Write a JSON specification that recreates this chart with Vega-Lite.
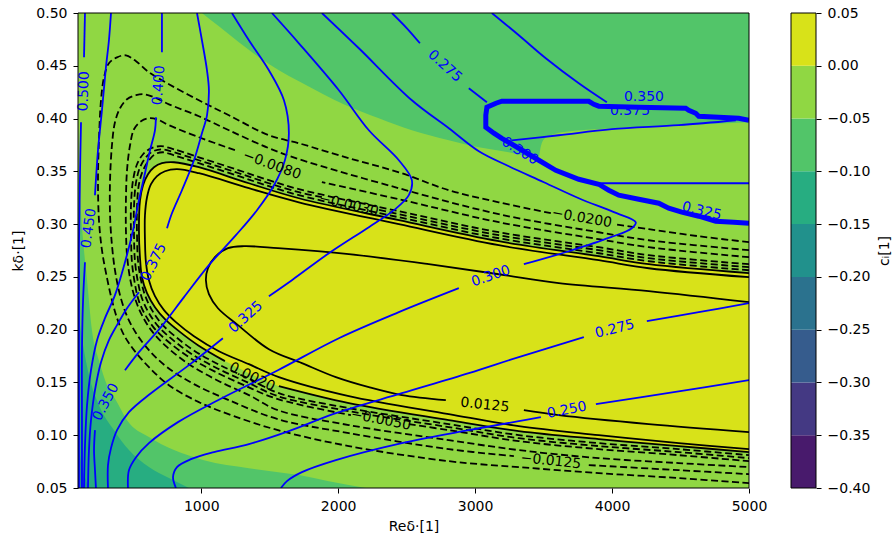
{
"$schema": "https://vega.github.io/schema/vega-lite/v6.json",
"background": "white",
"padding": {"left": 11, "top": 6, "right": 5, "bottom": 5},
"config": {
  "font": "DejaVu Sans",
  "view": {"stroke": null},
  "axis": {"labelFont": "DejaVu Sans", "titleFont": "DejaVu Sans", "labelFontSize": 14, "titleFontSize": 14, "titleFontWeight": "normal", "labelColor": "#000", "titleColor": "#000", "tickColor": "#000", "tickSize": 5, "tickWidth": 1, "labelPadding": 6, "domain": false, "grid": false, "labelFlush": false, "labelOverlap": false},
  "text": {"font": "DejaVu Sans", "fontSize": 14}
},
"datasets": {
  "plot": [{"re": 100, "re2": 5000, "k": 0.05, "k2": 0.5, "c": -0.025}],
  "bands": [
    {"lo": -0.40, "hi": -0.35, "c": -0.375},
    {"lo": -0.35, "hi": -0.30, "c": -0.325},
    {"lo": -0.30, "hi": -0.25, "c": -0.275},
    {"lo": -0.25, "hi": -0.20, "c": -0.225},
    {"lo": -0.20, "hi": -0.15, "c": -0.175},
    {"lo": -0.15, "hi": -0.10, "c": -0.125},
    {"lo": -0.10, "hi": -0.05, "c": -0.075},
    {"lo": -0.05, "hi": 0.00, "c": -0.025},
    {"lo": 0.00, "hi": 0.05, "c": 0.025}
  ],
  "fill": [
    {"region": "tr", "c": -0.075, "re": 1005, "k": 0.5, "k2": 0.5},
    {"region": "tr", "c": -0.075, "re": 1129, "k": 0.4874, "k2": 0.5},
    {"region": "tr", "c": -0.075, "re": 1275, "k": 0.4723, "k2": 0.5},
    {"region": "tr", "c": -0.075, "re": 1421, "k": 0.4580, "k2": 0.5},
    {"region": "tr", "c": -0.075, "re": 1567, "k": 0.4457, "k2": 0.5},
    {"region": "tr", "c": -0.075, "re": 1713, "k": 0.4353, "k2": 0.5},
    {"region": "tr", "c": -0.075, "re": 2056, "k": 0.4126, "k2": 0.5},
    {"region": "tr", "c": -0.075, "re": 2297, "k": 0.4003, "k2": 0.5},
    {"region": "tr", "c": -0.075, "re": 2538, "k": 0.3889, "k2": 0.5},
    {"region": "tr", "c": -0.075, "re": 2808, "k": 0.3794, "k2": 0.5},
    {"region": "tr", "c": -0.075, "re": 3027, "k": 0.3728, "k2": 0.5},
    {"region": "tr", "c": -0.075, "re": 3246, "k": 0.3681, "k2": 0.5},
    {"region": "tr", "c": -0.075, "re": 3436, "k": 0.3633, "k2": 0.5},
    {"region": "tr", "c": -0.075, "re": 3465, "k": 0.3643, "k2": 0.5},
    {"region": "tr", "c": -0.075, "re": 3480, "k": 0.3738, "k2": 0.5},
    {"region": "tr", "c": -0.075, "re": 3502, "k": 0.3804, "k2": 0.5},
    {"region": "tr", "c": -0.075, "re": 3538, "k": 0.3832, "k2": 0.5},
    {"region": "tr", "c": -0.075, "re": 3633, "k": 0.3870, "k2": 0.5},
    {"region": "tr", "c": -0.075, "re": 3998, "k": 0.3908, "k2": 0.5},
    {"region": "tr", "c": -0.075, "re": 4487, "k": 0.3937, "k2": 0.5},
    {"region": "tr", "c": -0.075, "re": 5000, "k": 0.3965, "k2": 0.5},
    {"region": "bl", "c": -0.075, "re": 100, "k": 0.05, "k2": 0.3539},
    {"region": "bl", "c": -0.075, "re": 107, "k": 0.05, "k2": 0.3368},
    {"region": "bl", "c": -0.075, "re": 115, "k": 0.05, "k2": 0.3226},
    {"region": "bl", "c": -0.075, "re": 137, "k": 0.05, "k2": 0.2847},
    {"region": "bl", "c": -0.075, "re": 166, "k": 0.05, "k2": 0.2469},
    {"region": "bl", "c": -0.075, "re": 202, "k": 0.05, "k2": 0.1995},
    {"region": "bl", "c": -0.075, "re": 253, "k": 0.05, "k2": 0.1711},
    {"region": "bl", "c": -0.075, "re": 312, "k": 0.05, "k2": 0.1474},
    {"region": "bl", "c": -0.075, "re": 377, "k": 0.05, "k2": 0.1332},
    {"region": "bl", "c": -0.075, "re": 458, "k": 0.05, "k2": 0.1143},
    {"region": "bl", "c": -0.075, "re": 618, "k": 0.05, "k2": 0.0982},
    {"region": "bl", "c": -0.075, "re": 801, "k": 0.05, "k2": 0.0859},
    {"region": "bl", "c": -0.075, "re": 1020, "k": 0.05, "k2": 0.0764},
    {"region": "bl", "c": -0.075, "re": 1348, "k": 0.05, "k2": 0.0688},
    {"region": "bl", "c": -0.075, "re": 1713, "k": 0.05, "k2": 0.0622},
    {"region": "bl", "c": -0.075, "re": 1932, "k": 0.05, "k2": 0.0565},
    {"region": "bl", "c": -0.075, "re": 2202, "k": 0.05, "k2": 0.05},
    {"region": "teal", "c": -0.125, "re": 100, "k": 0.05, "k2": 0.2185},
    {"region": "teal", "c": -0.125, "re": 137, "k": 0.05, "k2": 0.1853},
    {"region": "teal", "c": -0.125, "re": 180, "k": 0.05, "k2": 0.1569},
    {"region": "teal", "c": -0.125, "re": 253, "k": 0.05, "k2": 0.1285},
    {"region": "teal", "c": -0.125, "re": 363, "k": 0.05, "k2": 0.1048},
    {"region": "teal", "c": -0.125, "re": 472, "k": 0.05, "k2": 0.0859},
    {"region": "teal", "c": -0.125, "re": 618, "k": 0.05, "k2": 0.0698},
    {"region": "teal", "c": -0.125, "re": 764, "k": 0.05, "k2": 0.0594},
    {"region": "teal", "c": -0.125, "re": 910, "k": 0.05, "k2": 0.05},
    {"region": "c175", "c": -0.175, "re": 100, "k": 0.05, "k2": 0.0953},
    {"region": "c175", "c": -0.175, "re": 122, "k": 0.05, "k2": 0.0745},
    {"region": "c175", "c": -0.175, "re": 151, "k": 0.05, "k2": 0.0603},
    {"region": "c175", "c": -0.175, "re": 180, "k": 0.05, "k2": 0.05},
    {"region": "c225", "c": -0.225, "re": 100, "k": 0.05, "k2": 0.0669},
    {"region": "c225", "c": -0.225, "re": 115, "k": 0.05, "k2": 0.05},
    {"region": "yel", "c": 0.025, "re": 545, "k": 0.2866, "k2": 0.3018},
    {"region": "yel", "c": 0.025, "re": 553, "k": 0.2677, "k2": 0.3226},
    {"region": "yel", "c": 0.025, "re": 567, "k": 0.2497, "k2": 0.3321},
    {"region": "yel", "c": 0.025, "re": 589, "k": 0.2403, "k2": 0.3416},
    {"region": "yel", "c": 0.025, "re": 611, "k": 0.2327, "k2": 0.3472},
    {"region": "yel", "c": 0.025, "re": 655, "k": 0.2232, "k2": 0.3539},
    {"region": "yel", "c": 0.025, "re": 713, "k": 0.2128, "k2": 0.3577},
    {"region": "yel", "c": 0.025, "re": 801, "k": 0.2024, "k2": 0.3586},
    {"region": "yel", "c": 0.025, "re": 983, "k": 0.1844, "k2": 0.3539},
    {"region": "yel", "c": 0.025, "re": 1173, "k": 0.1702, "k2": 0.3463},
    {"region": "yel", "c": 0.025, "re": 1348, "k": 0.1588, "k2": 0.3387},
    {"region": "yel", "c": 0.025, "re": 1567, "k": 0.1465, "k2": 0.3302},
    {"region": "yel", "c": 0.025, "re": 1713, "k": 0.1418, "k2": 0.3245},
    {"region": "yel", "c": 0.025, "re": 2078, "k": 0.1304, "k2": 0.3141},
    {"region": "yel", "c": 0.025, "re": 2443, "k": 0.1218, "k2": 0.3037},
    {"region": "yel", "c": 0.025, "re": 2808, "k": 0.1143, "k2": 0.2942},
    {"region": "yel", "c": 0.025, "re": 3173, "k": 0.1077, "k2": 0.2838},
    {"region": "yel", "c": 0.025, "re": 3319, "k": 0.1039, "k2": 0.2810},
    {"region": "yel", "c": 0.025, "re": 3903, "k": 0.0963, "k2": 0.2696},
    {"region": "yel", "c": 0.025, "re": 4487, "k": 0.0897, "k2": 0.2611},
    {"region": "yel", "c": 0.025, "re": 5000, "k": 0.0840, "k2": 0.2535}
  ],
  "ci": [
    {"s": "L1a", "lv": -0.02, "re": 5000, "k": 0.2829}, {"s": "L1a", "lv": -0.02, "re": 4633, "k": 0.2885}, {"s": "L1a", "lv": -0.02, "re": 4268, "k": 0.2952}, {"s": "L1a", "lv": -0.02, "re": 4013, "k": 0.3000},
    {"s": "L1b", "lv": -0.02, "re": 3553, "k": 0.3103}, {"s": "L1b", "lv": -0.02, "re": 3173, "k": 0.3207}, {"s": "L1b", "lv": -0.02, "re": 2808, "k": 0.3321}, {"s": "L1b", "lv": -0.02, "re": 2443, "k": 0.3491}, {"s": "L1b", "lv": -0.02, "re": 2078, "k": 0.3624}, {"s": "L1b", "lv": -0.02, "re": 1713, "k": 0.3766}, {"s": "L1b", "lv": -0.02, "re": 1494, "k": 0.3842}, {"s": "L1b", "lv": -0.02, "re": 1202, "k": 0.4031}, {"s": "L1b", "lv": -0.02, "re": 983, "k": 0.4173}, {"s": "L1b", "lv": -0.02, "re": 764, "k": 0.4325}, {"s": "L1b", "lv": -0.02, "re": 618, "k": 0.4438}, {"s": "L1b", "lv": -0.02, "re": 524, "k": 0.4543}, {"s": "L1b", "lv": -0.02, "re": 450, "k": 0.4599}, {"s": "L1b", "lv": -0.02, "re": 385, "k": 0.4580}, {"s": "L1b", "lv": -0.02, "re": 326, "k": 0.4524}, {"s": "L1b", "lv": -0.02, "re": 290, "k": 0.4391}, {"s": "L1b", "lv": -0.02, "re": 268, "k": 0.4173}, {"s": "L1b", "lv": -0.02, "re": 253, "k": 0.3794}, {"s": "L1b", "lv": -0.02, "re": 246, "k": 0.3416}, {"s": "L1b", "lv": -0.02, "re": 253, "k": 0.3037}, {"s": "L1b", "lv": -0.02, "re": 275, "k": 0.2753}, {"s": "L1b", "lv": -0.02, "re": 312, "k": 0.2488}, {"s": "L1b", "lv": -0.02, "re": 348, "k": 0.2279}, {"s": "L1b", "lv": -0.02, "re": 385, "k": 0.2109}, {"s": "L1b", "lv": -0.02, "re": 436, "k": 0.1948}, {"s": "L1b", "lv": -0.02, "re": 509, "k": 0.1806}, {"s": "L1b", "lv": -0.02, "re": 618, "k": 0.1645}, {"s": "L1b", "lv": -0.02, "re": 764, "k": 0.1474}, {"s": "L1b", "lv": -0.02, "re": 983, "k": 0.1313}, {"s": "L1b", "lv": -0.02, "re": 1239, "k": 0.1181}, {"s": "L1b", "lv": -0.02, "re": 1560, "k": 0.1048}, {"s": "L1b", "lv": -0.02, "re": 2078, "k": 0.0897}, {"s": "L1b", "lv": -0.02, "re": 2808, "k": 0.0754}, {"s": "L1b", "lv": -0.02, "re": 3319, "k": 0.0698}, {"s": "L1b", "lv": -0.02, "re": 3903, "k": 0.0641}, {"s": "L1b", "lv": -0.02, "re": 4487, "k": 0.0594}, {"s": "L1b", "lv": -0.02, "re": 5000, "k": 0.0546},
    {"s": "L2a", "lv": -0.0125, "re": 5000, "k": 0.2753}, {"s": "L2a", "lv": -0.0125, "re": 4268, "k": 0.2847}, {"s": "L2a", "lv": -0.0125, "re": 3903, "k": 0.2923}, {"s": "L2a", "lv": -0.0125, "re": 3173, "k": 0.3094}, {"s": "L2a", "lv": -0.0125, "re": 2443, "k": 0.3340}, {"s": "L2a", "lv": -0.0125, "re": 1713, "k": 0.3615}, {"s": "L2a", "lv": -0.0125, "re": 1494, "k": 0.3719}, {"s": "L2a", "lv": -0.0125, "re": 1202, "k": 0.3889}, {"s": "L2a", "lv": -0.0125, "re": 983, "k": 0.4022}, {"s": "L2a", "lv": -0.0125, "re": 764, "k": 0.4135}, {"s": "L2a", "lv": -0.0125, "re": 655, "k": 0.4202}, {"s": "L2a", "lv": -0.0125, "re": 582, "k": 0.4230}, {"s": "L2a", "lv": -0.0125, "re": 524, "k": 0.4221}, {"s": "L2a", "lv": -0.0125, "re": 458, "k": 0.4183}, {"s": "L2a", "lv": -0.0125, "re": 407, "k": 0.4098}, {"s": "L2a", "lv": -0.0125, "re": 370, "k": 0.3965}, {"s": "L2a", "lv": -0.0125, "re": 348, "k": 0.3747}, {"s": "L2a", "lv": -0.0125, "re": 334, "k": 0.3416}, {"s": "L2a", "lv": -0.0125, "re": 334, "k": 0.3084}, {"s": "L2a", "lv": -0.0125, "re": 348, "k": 0.2800}, {"s": "L2a", "lv": -0.0125, "re": 370, "k": 0.2563}, {"s": "L2a", "lv": -0.0125, "re": 407, "k": 0.2327}, {"s": "L2a", "lv": -0.0125, "re": 458, "k": 0.2128}, {"s": "L2a", "lv": -0.0125, "re": 524, "k": 0.1967}, {"s": "L2a", "lv": -0.0125, "re": 618, "k": 0.1806}, {"s": "L2a", "lv": -0.0125, "re": 750, "k": 0.1645}, {"s": "L2a", "lv": -0.0125, "re": 947, "k": 0.1484}, {"s": "L2a", "lv": -0.0125, "re": 1202, "k": 0.1332}, {"s": "L2a", "lv": -0.0125, "re": 1560, "k": 0.1152}, {"s": "L2a", "lv": -0.0125, "re": 2078, "k": 0.1020}, {"s": "L2a", "lv": -0.0125, "re": 2808, "k": 0.0868}, {"s": "L2a", "lv": -0.0125, "re": 3283, "k": 0.0802},
    {"s": "L2b", "lv": -0.0125, "re": 3830, "k": 0.0717}, {"s": "L2b", "lv": -0.0125, "re": 4487, "k": 0.0669}, {"s": "L2b", "lv": -0.0125, "re": 5000, "k": 0.0631},
    {"s": "L3a", "lv": -0.008, "re": 5000, "k": 0.2687}, {"s": "L3a", "lv": -0.008, "re": 4268, "k": 0.2781}, {"s": "L3a", "lv": -0.008, "re": 3903, "k": 0.2857}, {"s": "L3a", "lv": -0.008, "re": 3173, "k": 0.3018}, {"s": "L3a", "lv": -0.008, "re": 2443, "k": 0.3236}, {"s": "L3a", "lv": -0.008, "re": 1881, "k": 0.3397},
    {"s": "L3b", "lv": -0.008, "re": 1246, "k": 0.3700}, {"s": "L3b", "lv": -0.008, "re": 983, "k": 0.3823}, {"s": "L3b", "lv": -0.008, "re": 764, "k": 0.3937}, {"s": "L3b", "lv": -0.008, "re": 677, "k": 0.3993}, {"s": "L3b", "lv": -0.008, "re": 618, "k": 0.4003}, {"s": "L3b", "lv": -0.008, "re": 560, "k": 0.3974}, {"s": "L3b", "lv": -0.008, "re": 509, "k": 0.3899}, {"s": "L3b", "lv": -0.008, "re": 480, "k": 0.3747}, {"s": "L3b", "lv": -0.008, "re": 458, "k": 0.3510}, {"s": "L3b", "lv": -0.008, "re": 450, "k": 0.3226}, {"s": "L3b", "lv": -0.008, "re": 450, "k": 0.2942}, {"s": "L3b", "lv": -0.008, "re": 458, "k": 0.2706}, {"s": "L3b", "lv": -0.008, "re": 480, "k": 0.2488}, {"s": "L3b", "lv": -0.008, "re": 516, "k": 0.2298}, {"s": "L3b", "lv": -0.008, "re": 567, "k": 0.2137}, {"s": "L3b", "lv": -0.008, "re": 640, "k": 0.1986}, {"s": "L3b", "lv": -0.008, "re": 742, "k": 0.1844}, {"s": "L3b", "lv": -0.008, "re": 910, "k": 0.1673}, {"s": "L3b", "lv": -0.008, "re": 1129, "k": 0.1512}, {"s": "L3b", "lv": -0.008, "re": 1348, "k": 0.1380}, {"s": "L3b", "lv": -0.008, "re": 1560, "k": 0.1237}, {"s": "L3b", "lv": -0.008, "re": 2078, "k": 0.1096}, {"s": "L3b", "lv": -0.008, "re": 2808, "k": 0.0953}, {"s": "L3b", "lv": -0.008, "re": 3319, "k": 0.0859}, {"s": "L3b", "lv": -0.008, "re": 3903, "k": 0.0783}, {"s": "L3b", "lv": -0.008, "re": 4487, "k": 0.0736}, {"s": "L3b", "lv": -0.008, "re": 5000, "k": 0.0698},
    {"s": "C1a", "lv": -0.005, "re": 5000, "k": 0.2620}, {"s": "C1a", "lv": -0.005, "re": 4268, "k": 0.2706}, {"s": "C1a", "lv": -0.005, "re": 3903, "k": 0.2781}, {"s": "C1a", "lv": -0.005, "re": 3173, "k": 0.2923}, {"s": "C1a", "lv": -0.005, "re": 2443, "k": 0.3122}, {"s": "C1a", "lv": -0.005, "re": 1713, "k": 0.3331}, {"s": "C1a", "lv": -0.005, "re": 1494, "k": 0.3416}, {"s": "C1a", "lv": -0.005, "re": 1275, "k": 0.3510}, {"s": "C1a", "lv": -0.005, "re": 983, "k": 0.3633}, {"s": "C1a", "lv": -0.005, "re": 801, "k": 0.3709}, {"s": "C1a", "lv": -0.005, "re": 706, "k": 0.3738}, {"s": "C1a", "lv": -0.005, "re": 633, "k": 0.3719}, {"s": "C1a", "lv": -0.005, "re": 575, "k": 0.3662}, {"s": "C1a", "lv": -0.005, "re": 531, "k": 0.3567}, {"s": "C1a", "lv": -0.005, "re": 502, "k": 0.3416}, {"s": "C1a", "lv": -0.005, "re": 487, "k": 0.3179}, {"s": "C1a", "lv": -0.005, "re": 487, "k": 0.2895}, {"s": "C1a", "lv": -0.005, "re": 494, "k": 0.2639}, {"s": "C1a", "lv": -0.005, "re": 516, "k": 0.2431}, {"s": "C1a", "lv": -0.005, "re": 545, "k": 0.2270}, {"s": "C1a", "lv": -0.005, "re": 596, "k": 0.2128}, {"s": "C1a", "lv": -0.005, "re": 669, "k": 0.1995}, {"s": "C1a", "lv": -0.005, "re": 764, "k": 0.1881}, {"s": "C1a", "lv": -0.005, "re": 910, "k": 0.1740}, {"s": "C1a", "lv": -0.005, "re": 1093, "k": 0.1607}, {"s": "C1a", "lv": -0.005, "re": 1312, "k": 0.1474}, {"s": "C1a", "lv": -0.005, "re": 1560, "k": 0.1342}, {"s": "C1a", "lv": -0.005, "re": 2093, "k": 0.1190},
    {"s": "C1b", "lv": -0.005, "re": 2516, "k": 0.1105}, {"s": "C1b", "lv": -0.005, "re": 2808, "k": 0.1048}, {"s": "C1b", "lv": -0.005, "re": 3319, "k": 0.0944}, {"s": "C1b", "lv": -0.005, "re": 3903, "k": 0.0868}, {"s": "C1b", "lv": -0.005, "re": 4487, "k": 0.0811}, {"s": "C1b", "lv": -0.005, "re": 5000, "k": 0.0754},
    {"s": "C2a", "lv": -0.003, "re": 5000, "k": 0.2592}, {"s": "C2a", "lv": -0.003, "re": 4268, "k": 0.2677}, {"s": "C2a", "lv": -0.003, "re": 3903, "k": 0.2753}, {"s": "C2a", "lv": -0.003, "re": 3173, "k": 0.2895}, {"s": "C2a", "lv": -0.003, "re": 2443, "k": 0.3094}, {"s": "C2a", "lv": -0.003, "re": 2275, "k": 0.3141},
    {"s": "C2b", "lv": -0.003, "re": 1881, "k": 0.3255}, {"s": "C2b", "lv": -0.003, "re": 1713, "k": 0.3302}, {"s": "C2b", "lv": -0.003, "re": 1494, "k": 0.3387}, {"s": "C2b", "lv": -0.003, "re": 1275, "k": 0.3482}, {"s": "C2b", "lv": -0.003, "re": 983, "k": 0.3605}, {"s": "C2b", "lv": -0.003, "re": 801, "k": 0.3681}, {"s": "C2b", "lv": -0.003, "re": 713, "k": 0.3709}, {"s": "C2b", "lv": -0.003, "re": 648, "k": 0.3690}, {"s": "C2b", "lv": -0.003, "re": 596, "k": 0.3633}, {"s": "C2b", "lv": -0.003, "re": 553, "k": 0.3539}, {"s": "C2b", "lv": -0.003, "re": 524, "k": 0.3397}, {"s": "C2b", "lv": -0.003, "re": 509, "k": 0.3169}, {"s": "C2b", "lv": -0.003, "re": 509, "k": 0.2895}, {"s": "C2b", "lv": -0.003, "re": 516, "k": 0.2648}, {"s": "C2b", "lv": -0.003, "re": 538, "k": 0.2450}, {"s": "C2b", "lv": -0.003, "re": 567, "k": 0.2298}, {"s": "C2b", "lv": -0.003, "re": 618, "k": 0.2156}, {"s": "C2b", "lv": -0.003, "re": 691, "k": 0.2024}, {"s": "C2b", "lv": -0.003, "re": 786, "k": 0.1910}, {"s": "C2b", "lv": -0.003, "re": 932, "k": 0.1768}, {"s": "C2b", "lv": -0.003, "re": 1115, "k": 0.1635}, {"s": "C2b", "lv": -0.003, "re": 1334, "k": 0.1503}, {"s": "C2b", "lv": -0.003, "re": 1560, "k": 0.1370}, {"s": "C2b", "lv": -0.003, "re": 2078, "k": 0.1228}, {"s": "C2b", "lv": -0.003, "re": 2808, "k": 0.1077}, {"s": "C2b", "lv": -0.003, "re": 3319, "k": 0.0972}, {"s": "C2b", "lv": -0.003, "re": 3903, "k": 0.0897}, {"s": "C2b", "lv": -0.003, "re": 4487, "k": 0.0840}, {"s": "C2b", "lv": -0.003, "re": 5000, "k": 0.0783},
    {"s": "C3", "lv": -0.002, "re": 5000, "k": 0.2563}, {"s": "C3", "lv": -0.002, "re": 4268, "k": 0.2648}, {"s": "C3", "lv": -0.002, "re": 3903, "k": 0.2724}, {"s": "C3", "lv": -0.002, "re": 3173, "k": 0.2866}, {"s": "C3", "lv": -0.002, "re": 2443, "k": 0.3065}, {"s": "C3", "lv": -0.002, "re": 1713, "k": 0.3274}, {"s": "C3", "lv": -0.002, "re": 1494, "k": 0.3359}, {"s": "C3", "lv": -0.002, "re": 1275, "k": 0.3454}, {"s": "C3", "lv": -0.002, "re": 983, "k": 0.3577}, {"s": "C3", "lv": -0.002, "re": 801, "k": 0.3652}, {"s": "C3", "lv": -0.002, "re": 721, "k": 0.3681}, {"s": "C3", "lv": -0.002, "re": 662, "k": 0.3662}, {"s": "C3", "lv": -0.002, "re": 618, "k": 0.3605}, {"s": "C3", "lv": -0.002, "re": 575, "k": 0.3510}, {"s": "C3", "lv": -0.002, "re": 545, "k": 0.3378}, {"s": "C3", "lv": -0.002, "re": 531, "k": 0.3160}, {"s": "C3", "lv": -0.002, "re": 531, "k": 0.2895}, {"s": "C3", "lv": -0.002, "re": 538, "k": 0.2658}, {"s": "C3", "lv": -0.002, "re": 560, "k": 0.2469}, {"s": "C3", "lv": -0.002, "re": 589, "k": 0.2327}, {"s": "C3", "lv": -0.002, "re": 640, "k": 0.2185}, {"s": "C3", "lv": -0.002, "re": 713, "k": 0.2052}, {"s": "C3", "lv": -0.002, "re": 808, "k": 0.1938}, {"s": "C3", "lv": -0.002, "re": 954, "k": 0.1796}, {"s": "C3", "lv": -0.002, "re": 1137, "k": 0.1664}, {"s": "C3", "lv": -0.002, "re": 1356, "k": 0.1531}, {"s": "C3", "lv": -0.002, "re": 1567, "k": 0.1398}, {"s": "C3", "lv": -0.002, "re": 2078, "k": 0.1257}, {"s": "C3", "lv": -0.002, "re": 2808, "k": 0.1105}, {"s": "C3", "lv": -0.002, "re": 3319, "k": 0.1001}, {"s": "C3", "lv": -0.002, "re": 3903, "k": 0.0925}, {"s": "C3", "lv": -0.002, "re": 4487, "k": 0.0868}, {"s": "C3", "lv": -0.002, "re": 5000, "k": 0.0811},
    {"s": "S0a", "lv": 0.002, "re": 5000, "k": 0.2535}, {"s": "S0a", "lv": 0.002, "re": 4268, "k": 0.2620}, {"s": "S0a", "lv": 0.002, "re": 3903, "k": 0.2696}, {"s": "S0a", "lv": 0.002, "re": 3173, "k": 0.2838}, {"s": "S0a", "lv": 0.002, "re": 2443, "k": 0.3037}, {"s": "S0a", "lv": 0.002, "re": 1713, "k": 0.3245}, {"s": "S0a", "lv": 0.002, "re": 1348, "k": 0.3387}, {"s": "S0a", "lv": 0.002, "re": 983, "k": 0.3539}, {"s": "S0a", "lv": 0.002, "re": 801, "k": 0.3586}, {"s": "S0a", "lv": 0.002, "re": 713, "k": 0.3577}, {"s": "S0a", "lv": 0.002, "re": 655, "k": 0.3539}, {"s": "S0a", "lv": 0.002, "re": 611, "k": 0.3472}, {"s": "S0a", "lv": 0.002, "re": 575, "k": 0.3368}, {"s": "S0a", "lv": 0.002, "re": 553, "k": 0.3226}, {"s": "S0a", "lv": 0.002, "re": 545, "k": 0.2942}, {"s": "S0a", "lv": 0.002, "re": 553, "k": 0.2677}, {"s": "S0a", "lv": 0.002, "re": 567, "k": 0.2497}, {"s": "S0a", "lv": 0.002, "re": 604, "k": 0.2346}, {"s": "S0a", "lv": 0.002, "re": 662, "k": 0.2213}, {"s": "S0a", "lv": 0.002, "re": 735, "k": 0.2100}, {"s": "S0a", "lv": 0.002, "re": 837, "k": 0.1986}, {"s": "S0a", "lv": 0.002, "re": 976, "k": 0.1853}, {"s": "S0a", "lv": 0.002, "re": 1173, "k": 0.1702},
    {"s": "S0b", "lv": 0.002, "re": 1567, "k": 0.1465}, {"s": "S0b", "lv": 0.002, "re": 2078, "k": 0.1304}, {"s": "S0b", "lv": 0.002, "re": 2808, "k": 0.1143}, {"s": "S0b", "lv": 0.002, "re": 3319, "k": 0.1039}, {"s": "S0b", "lv": 0.002, "re": 3903, "k": 0.0963}, {"s": "S0b", "lv": 0.002, "re": 4487, "k": 0.0897}, {"s": "S0b", "lv": 0.002, "re": 5000, "k": 0.0840},
    {"s": "S1", "lv": 0.005, "re": 5000, "k": 0.2497}, {"s": "S1", "lv": 0.005, "re": 4268, "k": 0.2582}, {"s": "S1", "lv": 0.005, "re": 3903, "k": 0.2658}, {"s": "S1", "lv": 0.005, "re": 3173, "k": 0.2800}, {"s": "S1", "lv": 0.005, "re": 2443, "k": 0.2999}, {"s": "S1", "lv": 0.005, "re": 1713, "k": 0.3207}, {"s": "S1", "lv": 0.005, "re": 1348, "k": 0.3340}, {"s": "S1", "lv": 0.005, "re": 983, "k": 0.3482}, {"s": "S1", "lv": 0.005, "re": 823, "k": 0.3520}, {"s": "S1", "lv": 0.005, "re": 735, "k": 0.3501}, {"s": "S1", "lv": 0.005, "re": 677, "k": 0.3454}, {"s": "S1", "lv": 0.005, "re": 633, "k": 0.3378}, {"s": "S1", "lv": 0.005, "re": 604, "k": 0.3255}, {"s": "S1", "lv": 0.005, "re": 589, "k": 0.3084}, {"s": "S1", "lv": 0.005, "re": 589, "k": 0.2847}, {"s": "S1", "lv": 0.005, "re": 596, "k": 0.2639}, {"s": "S1", "lv": 0.005, "re": 618, "k": 0.2469}, {"s": "S1", "lv": 0.005, "re": 662, "k": 0.2317}, {"s": "S1", "lv": 0.005, "re": 728, "k": 0.2185}, {"s": "S1", "lv": 0.005, "re": 815, "k": 0.2071}, {"s": "S1", "lv": 0.005, "re": 947, "k": 0.1938}, {"s": "S1", "lv": 0.005, "re": 1129, "k": 0.1796}, {"s": "S1", "lv": 0.005, "re": 1348, "k": 0.1673}, {"s": "S1", "lv": 0.005, "re": 1567, "k": 0.1550}, {"s": "S1", "lv": 0.005, "re": 2078, "k": 0.1370}, {"s": "S1", "lv": 0.005, "re": 2808, "k": 0.1200}, {"s": "S1", "lv": 0.005, "re": 3319, "k": 0.1086}, {"s": "S1", "lv": 0.005, "re": 3903, "k": 0.1001}, {"s": "S1", "lv": 0.005, "re": 4487, "k": 0.0925}, {"s": "S1", "lv": 0.005, "re": 5000, "k": 0.0868},
    {"s": "Sa1", "lv": 0.0125, "re": 5000, "k": 0.2260}, {"s": "Sa1", "lv": 0.0125, "re": 4268, "k": 0.2365}, {"s": "Sa1", "lv": 0.0125, "re": 3611, "k": 0.2440}, {"s": "Sa1", "lv": 0.0125, "re": 3173, "k": 0.2525}, {"s": "Sa1", "lv": 0.0125, "re": 2662, "k": 0.2620}, {"s": "Sa1", "lv": 0.0125, "re": 2078, "k": 0.2715}, {"s": "Sa1", "lv": 0.0125, "re": 1560, "k": 0.2772}, {"s": "Sa1", "lv": 0.0125, "re": 1312, "k": 0.2791}, {"s": "Sa1", "lv": 0.0125, "re": 1195, "k": 0.2772}, {"s": "Sa1", "lv": 0.0125, "re": 1100, "k": 0.2687}, {"s": "Sa1", "lv": 0.0125, "re": 1049, "k": 0.2582}, {"s": "Sa1", "lv": 0.0125, "re": 1034, "k": 0.2469}, {"s": "Sa1", "lv": 0.0125, "re": 1056, "k": 0.2336}, {"s": "Sa1", "lv": 0.0125, "re": 1122, "k": 0.2203}, {"s": "Sa1", "lv": 0.0125, "re": 1268, "k": 0.2043}, {"s": "Sa1", "lv": 0.0125, "re": 1494, "k": 0.1815}, {"s": "Sa1", "lv": 0.0125, "re": 1735, "k": 0.1683}, {"s": "Sa1", "lv": 0.0125, "re": 1983, "k": 0.1550}, {"s": "Sa1", "lv": 0.0125, "re": 2224, "k": 0.1455}, {"s": "Sa1", "lv": 0.0125, "re": 2465, "k": 0.1380}, {"s": "Sa1", "lv": 0.0125, "re": 2786, "k": 0.1332},
    {"s": "Sa2", "lv": 0.0125, "re": 3356, "k": 0.1237}, {"s": "Sa2", "lv": 0.0125, "re": 3611, "k": 0.1190}, {"s": "Sa2", "lv": 0.0125, "re": 4268, "k": 0.1105}, {"s": "Sa2", "lv": 0.0125, "re": 5000, "k": 0.1029}
  ],
  "cr": [
    {"s": "B500a", "re": 151, "k": 0.5}, {"s": "B500a", "re": 144, "k": 0.4580},
    {"s": "B500b", "re": 122, "k": 0.3965}, {"s": "B500b", "re": 115, "k": 0.3510}, {"s": "B500b", "re": 107, "k": 0.2753}, {"s": "B500b", "re": 107, "k": 0.1806}, {"s": "B500b", "re": 107, "k": 0.05},
    {"s": "B450a", "re": 341, "k": 0.5}, {"s": "B450a", "re": 326, "k": 0.4742}, {"s": "B450a", "re": 304, "k": 0.4486}, {"s": "B450a", "re": 275, "k": 0.4079}, {"s": "B450a", "re": 246, "k": 0.3700}, {"s": "B450a", "re": 224, "k": 0.3274},
    {"s": "B450b", "re": 151, "k": 0.2639}, {"s": "B450b", "re": 137, "k": 0.2279}, {"s": "B450b", "re": 129, "k": 0.1806}, {"s": "B450b", "re": 129, "k": 0.1143}, {"s": "B450b", "re": 129, "k": 0.05},
    {"s": "B400a", "re": 713, "k": 0.5}, {"s": "B400a", "re": 713, "k": 0.4628},
    {"s": "B400b", "re": 669, "k": 0.4012}, {"s": "B400b", "re": 662, "k": 0.3889}, {"s": "B400b", "re": 626, "k": 0.3700}, {"s": "B400b", "re": 589, "k": 0.3482}, {"s": "B400b", "re": 545, "k": 0.3226}, {"s": "B400b", "re": 502, "k": 0.2942}, {"s": "B400b", "re": 443, "k": 0.2639}, {"s": "B400b", "re": 370, "k": 0.2327}, {"s": "B400b", "re": 297, "k": 0.2109}, {"s": "B400b", "re": 239, "k": 0.1900}, {"s": "B400b", "re": 195, "k": 0.1616}, {"s": "B400b", "re": 166, "k": 0.1285}, {"s": "B400b", "re": 151, "k": 0.0906}, {"s": "B400b", "re": 144, "k": 0.05},
    {"s": "B375a", "re": 969, "k": 0.5}, {"s": "B375a", "re": 1005, "k": 0.4742}, {"s": "B375a", "re": 1042, "k": 0.4457}, {"s": "B375a", "re": 1056, "k": 0.4268}, {"s": "B375a", "re": 1042, "k": 0.4031}, {"s": "B375a", "re": 1005, "k": 0.3861}, {"s": "B375a", "re": 947, "k": 0.3605}, {"s": "B375a", "re": 859, "k": 0.3321}, {"s": "B375a", "re": 786, "k": 0.3103}, {"s": "B375a", "re": 750, "k": 0.2961},
    {"s": "B375b", "re": 545, "k": 0.2355}, {"s": "B375b", "re": 458, "k": 0.2203}, {"s": "B375b", "re": 385, "k": 0.2043}, {"s": "B375b", "re": 326, "k": 0.1900}, {"s": "B375b", "re": 268, "k": 0.1692}, {"s": "B375b", "re": 224, "k": 0.1427}, {"s": "B375b", "re": 195, "k": 0.1143}, {"s": "B375b", "re": 180, "k": 0.0859}, {"s": "B375b", "re": 173, "k": 0.05},
    {"s": "B350a", "re": 1224, "k": 0.5}, {"s": "B350a", "re": 1348, "k": 0.4742}, {"s": "B350a", "re": 1494, "k": 0.4457}, {"s": "B350a", "re": 1604, "k": 0.4173}, {"s": "B350a", "re": 1640, "k": 0.3861}, {"s": "B350a", "re": 1611, "k": 0.3605}, {"s": "B350a", "re": 1531, "k": 0.3368}, {"s": "B350a", "re": 1407, "k": 0.3132}, {"s": "B350a", "re": 1253, "k": 0.2895}, {"s": "B350a", "re": 1056, "k": 0.2611}, {"s": "B350a", "re": 874, "k": 0.2308}, {"s": "B350a", "re": 706, "k": 0.2024}, {"s": "B350a", "re": 545, "k": 0.1787}, {"s": "B350a", "re": 443, "k": 0.1616},
    {"s": "B350b", "re": 224, "k": 0.1048}, {"s": "B350b", "re": 217, "k": 0.0859}, {"s": "B350b", "re": 224, "k": 0.0669}, {"s": "B350b", "re": 231, "k": 0.05},
    {"s": "B325a", "re": 1516, "k": 0.5}, {"s": "B325a", "re": 1713, "k": 0.4713}, {"s": "B325a", "re": 2005, "k": 0.4268}, {"s": "B325a", "re": 2224, "k": 0.3889}, {"s": "B325a", "re": 2443, "k": 0.3605}, {"s": "B325a", "re": 2538, "k": 0.3416}, {"s": "B325a", "re": 2516, "k": 0.3274}, {"s": "B325a", "re": 2407, "k": 0.3132}, {"s": "B325a", "re": 2224, "k": 0.2971}, {"s": "B325a", "re": 1932, "k": 0.2724}, {"s": "B325a", "re": 1662, "k": 0.2469}, {"s": "B325a", "re": 1494, "k": 0.2317},
    {"s": "B325b", "re": 1158, "k": 0.1919}, {"s": "B325b", "re": 910, "k": 0.1664}, {"s": "B325b", "re": 633, "k": 0.1398}, {"s": "B325b", "re": 472, "k": 0.1218}, {"s": "B325b", "re": 385, "k": 0.1048}, {"s": "B325b", "re": 341, "k": 0.0878}, {"s": "B325b", "re": 319, "k": 0.0717}, {"s": "B325b", "re": 319, "k": 0.05},
    {"s": "B300a", "re": 1881, "k": 0.5}, {"s": "B300a", "re": 2151, "k": 0.4666}, {"s": "B300a", "re": 2538, "k": 0.4173}, {"s": "B300a", "re": 2808, "k": 0.3908}, {"s": "B300a", "re": 3027, "k": 0.3690}, {"s": "B300a", "re": 3246, "k": 0.3548}, {"s": "B300a", "re": 3502, "k": 0.3397}, {"s": "B300a", "re": 3757, "k": 0.3245}, {"s": "B300a", "re": 4013, "k": 0.3113}, {"s": "B300a", "re": 4173, "k": 0.3018}, {"s": "B300a", "re": 4144, "k": 0.2961}, {"s": "B300a", "re": 3991, "k": 0.2876}, {"s": "B300a", "re": 3684, "k": 0.2743}, {"s": "B300a", "re": 3356, "k": 0.2620},
    {"s": "B300b", "re": 2881, "k": 0.2393}, {"s": "B300b", "re": 2443, "k": 0.2166}, {"s": "B300b", "re": 2005, "k": 0.1919}, {"s": "B300b", "re": 1560, "k": 0.1616}, {"s": "B300b", "re": 1122, "k": 0.1332}, {"s": "B300b", "re": 830, "k": 0.1124}, {"s": "B300b", "re": 618, "k": 0.0925}, {"s": "B300b", "re": 524, "k": 0.0792}, {"s": "B300b", "re": 472, "k": 0.0669}, {"s": "B300b", "re": 465, "k": 0.05},
    {"s": "B275a", "re": 815, "k": 0.05}, {"s": "B275a", "re": 794, "k": 0.0603}, {"s": "B275a", "re": 823, "k": 0.0698}, {"s": "B275a", "re": 925, "k": 0.0773}, {"s": "B275a", "re": 1093, "k": 0.0840}, {"s": "B275a", "re": 1348, "k": 0.0916}, {"s": "B275a", "re": 1640, "k": 0.1039}, {"s": "B275a", "re": 1983, "k": 0.1209}, {"s": "B275a", "re": 2465, "k": 0.1398}, {"s": "B275a", "re": 2954, "k": 0.1588}, {"s": "B275a", "re": 3319, "k": 0.1740}, {"s": "B275a", "re": 3794, "k": 0.1929},
    {"s": "B275b", "re": 4254, "k": 0.2081}, {"s": "B275b", "re": 4633, "k": 0.2166}, {"s": "B275b", "re": 5000, "k": 0.2251},
    {"s": "B275c", "re": 2392, "k": 0.5}, {"s": "B275c", "re": 2502, "k": 0.4855}, {"s": "B275c", "re": 2597, "k": 0.4713},
    {"s": "B275d", "re": 2954, "k": 0.4287}, {"s": "B275d", "re": 3086, "k": 0.4154},
    {"s": "B250a", "re": 1582, "k": 0.05}, {"s": "B250a", "re": 1626, "k": 0.0565}, {"s": "B250a", "re": 1735, "k": 0.0650}, {"s": "B250a", "re": 1983, "k": 0.0764}, {"s": "B250a", "re": 2465, "k": 0.0925}, {"s": "B250a", "re": 2954, "k": 0.1048}, {"s": "B250a", "re": 3319, "k": 0.1133}, {"s": "B250a", "re": 3480, "k": 0.1171},
    {"s": "B250b", "re": 3882, "k": 0.1294}, {"s": "B250b", "re": 4451, "k": 0.1408}, {"s": "B250b", "re": 5000, "k": 0.1522},
    {"s": "Bt", "re": 3122, "k": 0.5}, {"s": "Bt", "re": 3319, "k": 0.4789}, {"s": "Bt", "re": 3516, "k": 0.4571}, {"s": "Bt", "re": 3757, "k": 0.4334}, {"s": "Bt", "re": 3962, "k": 0.4154},
    {"s": "Bl1", "re": 3268, "k": 0.3794}, {"s": "Bl1", "re": 3611, "k": 0.3842}, {"s": "Bl1", "re": 3998, "k": 0.3899}, {"s": "Bl1", "re": 4487, "k": 0.3937}, {"s": "Bl1", "re": 4904, "k": 0.3984},
    {"s": "Bl2", "re": 3903, "k": 0.3387}, {"s": "Bl2", "re": 5000, "k": 0.3387},
    {"s": "Bx", "re": 5000, "k": 0.3984}, {"s": "Bx", "re": 4925, "k": 0.4003}, {"s": "Bx", "re": 4633, "k": 0.4022}, {"s": "Bx", "re": 4611, "k": 0.4050}, {"s": "Bx", "re": 4560, "k": 0.4079}, {"s": "Bx", "re": 4538, "k": 0.4098}, {"s": "Bx", "re": 4195, "k": 0.4107}, {"s": "Bx", "re": 3903, "k": 0.4117}, {"s": "Bx", "re": 3867, "k": 0.4135}, {"s": "Bx", "re": 3830, "k": 0.4164}, {"s": "Bx", "re": 3195, "k": 0.4164}, {"s": "Bx", "re": 3152, "k": 0.4145}, {"s": "Bx", "re": 3086, "k": 0.4107}, {"s": "Bx", "re": 3078, "k": 0.4031}, {"s": "Bx", "re": 3078, "k": 0.3918}, {"s": "Bx", "re": 3137, "k": 0.3861}, {"s": "Bx", "re": 3195, "k": 0.3813}, {"s": "Bx", "re": 3319, "k": 0.3719}, {"s": "Bx", "re": 3465, "k": 0.3605}, {"s": "Bx", "re": 3589, "k": 0.3510}, {"s": "Bx", "re": 3757, "k": 0.3425}, {"s": "Bx", "re": 3903, "k": 0.3378}, {"s": "Bx", "re": 3976, "k": 0.3321}, {"s": "Bx", "re": 4049, "k": 0.3274}, {"s": "Bx", "re": 4195, "k": 0.3236}, {"s": "Bx", "re": 4341, "k": 0.3198}, {"s": "Bx", "re": 4414, "k": 0.3151}, {"s": "Bx", "re": 4509, "k": 0.3113}, {"s": "Bx", "re": 4633, "k": 0.3075}, {"s": "Bx", "re": 4757, "k": 0.3027}, {"s": "Bx", "re": 4889, "k": 0.3018}, {"s": "Bx", "re": 5000, "k": 0.3008}
  ],
  "lab": [
    {"fam": "ci", "t": "−0.0080", "re": 1516, "k": 0.3558, "dir": 20},
    {"fam": "ci", "t": "−0.0200", "re": 3779, "k": 0.3056, "dir": 10},
    {"fam": "ci", "t": "−0.0030", "re": 2078, "k": 0.3179, "dir": 13},
    {"fam": "ci", "t": "−0.0050", "re": 2312, "k": 0.1143, "dir": 11},
    {"fam": "ci", "t": "−0.0125", "re": 3553, "k": 0.0754, "dir": 6},
    {"fam": "ci", "t": "0.0125", "re": 3071, "k": 0.1285, "dir": 6},
    {"fam": "ci", "t": "0.0020", "re": 1370, "k": 0.1550, "dir": 26},
    {"fam": "cr", "t": "0.500", "re": 144, "k": 0.4259, "dir": -88},
    {"fam": "cr", "t": "0.450", "re": 180, "k": 0.2961, "dir": -82},
    {"fam": "cr", "t": "0.400", "re": 691, "k": 0.4316, "dir": -86},
    {"fam": "cr", "t": "0.375", "re": 655, "k": 0.2639, "dir": -64},
    {"fam": "cr", "t": "0.350", "re": 304, "k": 0.1313, "dir": -62},
    {"fam": "cr", "t": "0.325", "re": 1326, "k": 0.2118, "dir": -42},
    {"fam": "cr", "t": "0.300", "re": 3115, "k": 0.2506, "dir": -19},
    {"fam": "cr", "t": "0.275", "re": 4020, "k": 0.2005, "dir": -14},
    {"fam": "cr", "t": "0.250", "re": 3670, "k": 0.1237, "dir": -11},
    {"fam": "cr", "t": "0.275", "re": 2779, "k": 0.4495, "dir": 42},
    {"fam": "cr", "t": "0.300", "re": 3327, "k": 0.3690, "dir": 32},
    {"fam": "cr", "t": "0.325", "re": 4655, "k": 0.3122, "dir": 13},
    {"fam": "cr", "t": "0.350", "re": 4233, "k": 0.4205, "dir": 0},
    {"fam": "cr", "t": "0.375", "re": 4131, "k": 0.4075, "dir": 0}
  ]
},
"spacing": 42,
"bounds": "flush",
"hconcat": [
  {
    "width": 671,
    "height": 475,
    "encoding": {
      "x": {"field": "re", "type": "quantitative", "title": "Reδ·[1]", "scale": {"domain": [100, 5000], "nice": false, "zero": false}, "axis": {"values": [1000, 2000, 3000, 4000, 5000], "format": "d", "titlePadding": 6}},
      "y": {"field": "k", "type": "quantitative", "title": "kδ·[1]", "scale": {"domain": [0.05, 0.5], "nice": false, "zero": false}, "axis": {"values": [0.05, 0.1, 0.15, 0.2, 0.25, 0.3, 0.35, 0.4, 0.45, 0.5], "format": ".2f", "titlePadding": 10}}
    },
    "layer": [
      {"data": {"name": "plot"}, "mark": {"type": "rect", "opacity": 1}, "encoding": {"x2": {"field": "re2"}, "y2": {"field": "k2"}, "color": {"field": "c", "type": "ordinal", "legend": null, "scale": {"type": "ordinal", "domain": [-0.375, -0.325, -0.275, -0.225, -0.175, -0.125, -0.075, -0.025, 0.025], "range": ["#481a6c", "#443983", "#365c8d", "#2b728e", "#21918c", "#27ad81", "#52c569", "#90d743", "#d8e219"]}}}},
      {"data": {"name": "fill"}, "transform": [{"filter": "datum.region === 'tr'"}], "mark": {"type": "area", "orient": "vertical", "interpolate": "monotone", "opacity": 1}, "encoding": {"y2": {"field": "k2"}, "color": {"field": "c", "type": "ordinal", "legend": null}}},
      {"data": {"name": "fill"}, "transform": [{"filter": "datum.region === 'bl'"}], "mark": {"type": "area", "orient": "vertical", "interpolate": "monotone", "opacity": 1}, "encoding": {"y2": {"field": "k2"}, "color": {"field": "c", "type": "ordinal", "legend": null}}},
      {"data": {"name": "fill"}, "transform": [{"filter": "datum.region === 'teal'"}], "mark": {"type": "area", "orient": "vertical", "interpolate": "monotone", "opacity": 1}, "encoding": {"y2": {"field": "k2"}, "color": {"field": "c", "type": "ordinal", "legend": null}}},
      {"data": {"name": "fill"}, "transform": [{"filter": "datum.region === 'c175'"}], "mark": {"type": "area", "orient": "vertical", "interpolate": "monotone", "opacity": 1}, "encoding": {"y2": {"field": "k2"}, "color": {"field": "c", "type": "ordinal", "legend": null}}},
      {"data": {"name": "fill"}, "transform": [{"filter": "datum.region === 'c225'"}], "mark": {"type": "area", "orient": "vertical", "interpolate": "monotone", "opacity": 1}, "encoding": {"y2": {"field": "k2"}, "color": {"field": "c", "type": "ordinal", "legend": null}}},
      {"data": {"name": "fill"}, "transform": [{"filter": "datum.region === 'yel'"}], "mark": {"type": "area", "orient": "vertical", "interpolate": "monotone", "opacity": 1}, "encoding": {"y2": {"field": "k2"}, "color": {"field": "c", "type": "ordinal", "legend": null}}},
      {"data": {"name": "ci"}, "transform": [{"window": [{"op": "row_number", "as": "i"}], "groupby": ["s"]}, {"filter": "datum.lv < 0"}], "mark": {"type": "line", "color": "#000", "strokeWidth": 1.8, "strokeDash": [7, 3.5], "interpolate": "catmull-rom", "clip": true}, "encoding": {"detail": {"field": "s"}, "order": {"field": "i", "type": "quantitative"}}},
      {"data": {"name": "ci"}, "transform": [{"window": [{"op": "row_number", "as": "i"}], "groupby": ["s"]}, {"filter": "datum.lv >= 0"}], "mark": {"type": "line", "color": "#000", "strokeWidth": 1.8, "interpolate": "catmull-rom", "clip": true}, "encoding": {"detail": {"field": "s"}, "order": {"field": "i", "type": "quantitative"}}},
      {"data": {"name": "cr"}, "transform": [{"window": [{"op": "row_number", "as": "i"}], "groupby": ["s"]}, {"filter": "datum.s !== 'Bx'"}], "mark": {"type": "line", "color": "#0000ff", "strokeWidth": 1.8, "interpolate": "catmull-rom", "clip": true}, "encoding": {"detail": {"field": "s"}, "order": {"field": "i", "type": "quantitative"}}},
      {"data": {"name": "cr"}, "transform": [{"window": [{"op": "row_number", "as": "i"}], "groupby": ["s"]}, {"filter": "datum.s === 'Bx'"}], "mark": {"type": "line", "color": "#0000ff", "strokeWidth": 5, "strokeJoin": "miter", "interpolate": "linear", "clip": true}, "encoding": {"detail": {"field": "s"}, "order": {"field": "i", "type": "quantitative"}}},
      {"data": {"name": "lab"}, "transform": [{"filter": "datum.fam === 'ci'"}], "mark": {"type": "text", "color": "#000", "font": "DejaVu Sans", "fontSize": 14, "align": "center", "baseline": "middle"}, "encoding": {"text": {"field": "t"}, "angle": {"field": "dir", "type": "quantitative", "scale": null}}},
      {"data": {"name": "lab"}, "transform": [{"filter": "datum.fam === 'cr'"}], "mark": {"type": "text", "color": "#0000ff", "font": "DejaVu Sans", "fontSize": 14, "align": "center", "baseline": "middle"}, "encoding": {"text": {"field": "t"}, "angle": {"field": "dir", "type": "quantitative", "scale": null}}},
      {"data": {"name": "plot"}, "mark": {"type": "rect", "fillOpacity": 0, "stroke": "#000", "strokeWidth": 1}, "encoding": {"x2": {"field": "re2"}, "y2": {"field": "k2"}}}
    ]
  },
  {
    "width": 25,
    "height": 475,
    "data": {"name": "bands"},
    "encoding": {
      "x": {"datum": 0, "type": "quantitative", "scale": {"domain": [0, 1]}, "axis": null},
      "x2": {"datum": 1},
      "y": {"field": "lo", "type": "quantitative", "title": "cᵢ[1]", "scale": {"domain": [-0.4, 0.05], "nice": false, "zero": false}, "axis": {"orient": "right", "values": [-0.4, -0.35, -0.3, -0.25, -0.2, -0.15, -0.1, -0.05, 0, 0.05], "format": ".2f", "titleAngle": 270, "titleBaseline": "top", "titlePadding": 8}},
      "y2": {"field": "hi"}
    },
    "layer": [
      {"mark": {"type": "rect", "opacity": 1}, "encoding": {"color": {"field": "c", "type": "ordinal", "legend": null, "scale": {"type": "ordinal", "domain": [-0.375, -0.325, -0.275, -0.225, -0.175, -0.125, -0.075, -0.025, 0.025], "range": ["#481a6c", "#443983", "#365c8d", "#2b728e", "#21918c", "#27ad81", "#52c569", "#90d743", "#d8e219"]}}}},
      {"transform": [{"aggregate": [{"op": "min", "field": "lo", "as": "lo"}, {"op": "max", "field": "hi", "as": "hi"}]}], "mark": {"type": "rect", "fillOpacity": 0, "stroke": "#000", "strokeWidth": 1}}
    ]
  }
]
}
